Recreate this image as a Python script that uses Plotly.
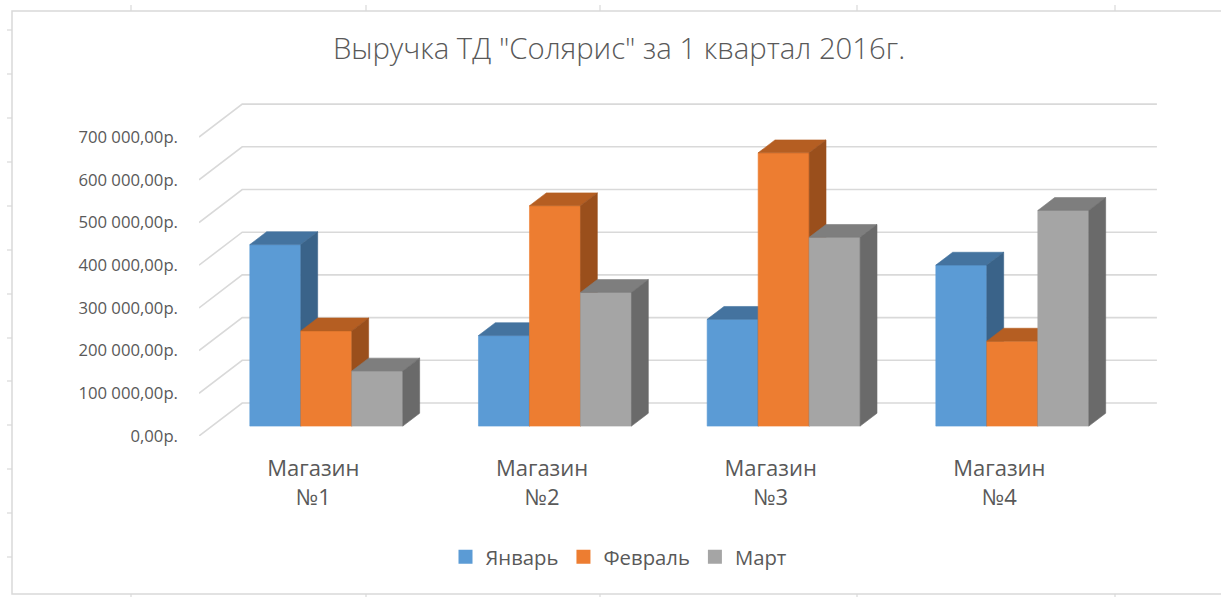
import plotly.graph_objects as go

# ---------------- data ----------------
categories = ["Магазин №1", "Магазин №2", "Магазин №3", "Магазин №4"]
series_names = ["Январь", "Февраль", "Март"]
jan = [425000, 212000, 250000, 377000]
feb = [223000, 516000, 640000, 199000]
mar = [129000, 313000, 442000, 505000]
tick_values = [0, 100000, 200000, 300000, 400000, 500000, 600000, 700000]
tick_labels = ["0,00р.", "100 000,00р.", "200 000,00р.", "300 000,00р.",
               "400 000,00р.", "500 000,00р.", "600 000,00р.", "700 000,00р."]
title_text = 'Выручка ТД "Солярис" за 1 квартал 2016г.'

# ---------------- style ----------------
front_cols = ["#5B9BD5", "#ED7D31", "#A5A5A5"]
top_cols = ["#44739F", "#B55E22", "#7E7E7E"]
side_cols = ["#3A6389", "#9A4F1C", "#6A6A6A"]
grid_col = "#D9D9D9"
text_col = "#595959"

W, H = 1221, 597
ml, mr, mt, mb = 199, 57, 95, 161
x_range = [-0.5, 3.72]
y_range = [0, 798600]

# pseudo-3D geometry (data units)
dxu = 0.189      # full depth, x
dyv = 77300      # full depth, y (value units)
f0 = 0.30        # bar front face depth fraction
fd = 0.39        # bar depth fraction
bw = 0.223       # bar width
ddx, ddy = fd * dxu, fd * dyv

fig = go.Figure()

# gridlines: side-wall diagonals + back wall
gx, gy = [], []
for v in tick_values:
    gx += [x_range[0], x_range[0] + dxu, len(categories) - 0.5 + dxu, None]
    gy += [v, v + dyv, v + dyv, None]
fig.add_trace(go.Scatter(x=gx, y=gy, mode="lines", line=dict(color=grid_col, width=1.6),
                         hoverinfo="skip", showlegend=False))

all_series = [jan, feb, mar]
for i in range(len(categories)):
    for j, vals in enumerate(all_series):
        v = vals[i]
        xl = i + (j - 1.5) * bw + f0 * dxu
        xr = xl + bw
        b = f0 * dyv
        h = b + v
        polys = [
            ([xl, xr, xr, xl, xl], [b, b, h, h, b], front_cols[j]),
            ([xl, xr, xr + ddx, xl + ddx, xl], [h, h, h + ddy, h + ddy, h], top_cols[j]),
            ([xr, xr + ddx, xr + ddx, xr, xr], [b, b + ddy, h + ddy, h, b], side_cols[j]),
        ]
        for px, py, c in polys:
            fig.add_trace(go.Scatter(x=px, y=py, mode="lines", fill="toself", fillcolor=c,
                                     line=dict(color=c, width=0.6), hoverinfo="skip",
                                     showlegend=False))

# legend entries
for j, name in enumerate(series_names):
    fig.add_trace(go.Scatter(x=[None], y=[None], mode="markers", name=name,
                             marker=dict(symbol="square", size=14, color=front_cols[j])))

# chart border and sheet ticks (paper coords relative to plot area)
pw, ph = W - ml - mr, H - mt - mb
def px2x(p):
    return (p - ml) / pw
def py2y(p):
    return (H - mb - p) / ph

shapes = [dict(type="rect", xref="paper", yref="paper",
               x0=px2x(12), x1=px2x(1230), y0=py2y(594), y1=py2y(11),
               line=dict(color=grid_col, width=1.5), layer="below")]
for yy in [30, 74, 118, 162, 206, 250, 294, 338, 381, 425, 469, 513, 557]:
    shapes.append(dict(type="line", xref="paper", yref="paper",
                       x0=px2x(7), x1=px2x(12), y0=py2y(yy), y1=py2y(yy),
                       line=dict(color=grid_col, width=1.2)))
for xx in [131, 366, 600, 857, 1115]:
    shapes.append(dict(type="line", xref="paper", yref="paper",
                       x0=px2x(xx), x1=px2x(xx), y0=py2y(5), y1=py2y(11),
                       line=dict(color=grid_col, width=1.2)))
    shapes.append(dict(type="line", xref="paper", yref="paper",
                       x0=px2x(xx), x1=px2x(xx), y0=py2y(594), y1=py2y(597),
                       line=dict(color=grid_col, width=1.2)))

fig.update_layout(
    width=W, height=H,
    margin=dict(l=ml, r=mr, t=mt, b=mb, pad=0),
    paper_bgcolor="white", plot_bgcolor="white",
    font=dict(family="Open Sans, Noto Sans, sans-serif", color=text_col),
    title=dict(text=title_text, x=619 / W, xanchor="center", xref="container",
               y=1 - 49 / H, yanchor="middle", yref="container",
               font=dict(size=29.3, color=text_col, family="Open Sans, Noto Sans, sans-serif", weight=300)),
    xaxis=dict(range=x_range, showgrid=False, zeroline=False, showline=False,
               tickvals=list(range(len(categories))),
               ticktext=[c.replace(" ", "<br>") for c in categories],
               tickfont=dict(size=22, color=text_col), ticks="", ticklabelstandoff=17,
               fixedrange=True),
    yaxis=dict(range=y_range, showgrid=False, zeroline=False, showline=False,
               tickvals=tick_values, ticktext=tick_labels,
               tickfont=dict(size=16.7, color=text_col), ticks="", ticklabelstandoff=20,
               fixedrange=True),
    legend=dict(orientation="h", xref="container", yref="container",
                x=619 / W, xanchor="center", y=1 - 557 / H, yanchor="middle",
                font=dict(size=20.3, color=text_col), itemwidth=30),
    shapes=shapes,
    showlegend=True,
)

fig.write_html("out.html", config={"displayModeBar": False},
               post_script="document.body.style.margin='0';document.body.style.overflow='hidden';")
